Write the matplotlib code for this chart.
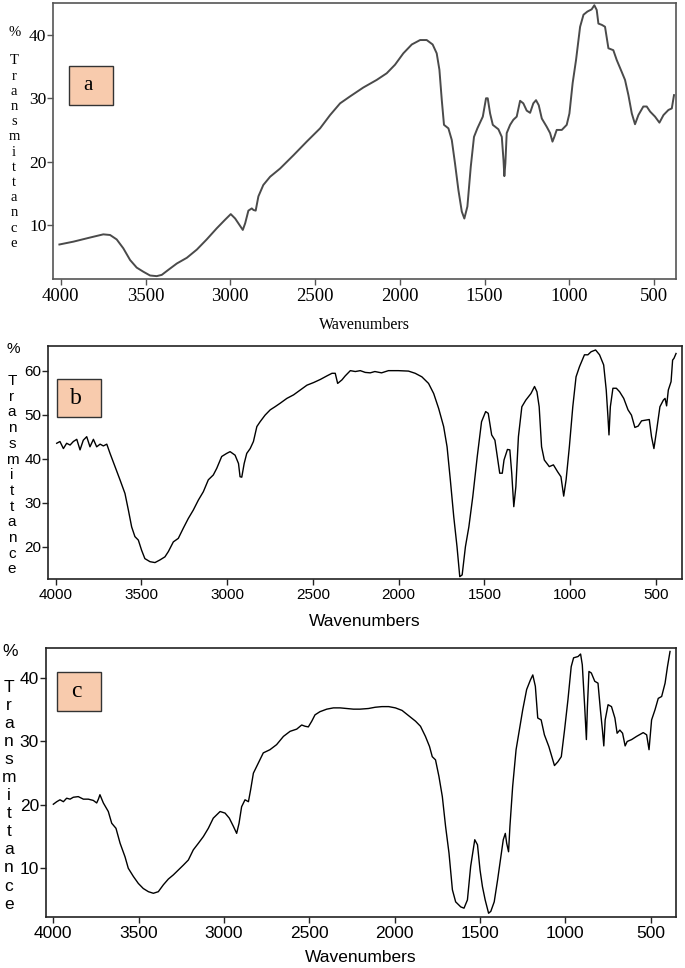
import matplotlib
matplotlib.use('Agg')
import matplotlib.pyplot as plt
from matplotlib.patches import Rectangle

# spectrum a
wn_a = [4008, 3925, 3827, 3749, 3709, 3670, 3631, 3591, 3552, 3513, 3473, 3434, 3404, 3365,
        3315, 3256, 3197, 3139, 3080, 3031, 2997, 2971, 2946, 2926, 2912, 2893, 2873, 2863,
        2850, 2834, 2805, 2765, 2706, 2627, 2549, 2470, 2411, 2352, 2293, 2215, 2136, 2077,
        2028, 1979, 1929, 1880, 1841, 1806, 1782, 1766, 1752, 1739, 1713, 1693, 1674, 1654,
        1634, 1619, 1601, 1581, 1562, 1542, 1510, 1491, 1481, 1467, 1451, 1418, 1398, 1388,
        1383, 1377, 1369, 1349, 1330, 1310, 1290, 1271, 1251, 1231, 1212, 1196, 1180, 1162,
        1133, 1113, 1099, 1088, 1074, 1044, 1015, 999, 980, 960, 936, 916, 893, 868, 852,
        838, 828, 808, 789, 769, 740, 720, 691, 671, 651, 631, 612, 592, 563, 543, 523, 494,
        468, 444, 415, 395, 382]
tr_a = [6.9, 7.35, 8.0, 8.5, 8.4, 7.7, 6.3, 4.45, 3.25, 2.6, 2.0, 1.9, 2.1, 2.9,
        3.9, 4.8, 6.1, 7.7, 9.45, 10.8, 11.7, 11.0, 10.0, 9.2, 10.25, 12.25, 12.6, 12.35,
        12.25, 14.5, 16.3, 17.6, 18.9, 21.0, 23.15, 25.25, 27.35, 29.2, 30.3, 31.7, 32.9, 33.95,
        35.3, 37.1, 38.5, 39.2, 39.2, 38.5, 37.1, 34.5, 29.7, 25.8, 25.25, 23.4, 19.7, 15.5,
        12.1, 11.0, 12.9, 19.2, 23.9, 25.25, 27.1, 30.0, 30.0, 27.6, 25.8, 25.1, 23.9, 20.25,
        17.7, 19.7, 24.5, 25.8, 26.6, 27.1, 29.6, 29.2, 28.05, 27.7, 29.2, 29.7, 28.9, 26.8,
        25.5, 24.5, 23.15, 23.9, 25.0, 25.0, 25.8, 27.6, 32.4, 36.05, 41.3, 43.2, 43.7, 44.05, 44.7,
        43.95, 41.8, 41.6, 41.3, 37.9, 37.6, 36.05, 34.2, 32.9, 30.5, 27.6, 25.9, 27.35, 28.7, 28.7, 27.9, 27.1,
        26.15, 27.35, 28.15, 28.4, 30.5]

# spectrum b
wn_b = [3994, 3975, 3955, 3936, 3916, 3897, 3877, 3858, 3839, 3819, 3800, 3780, 3761, 3741,
        3722, 3702, 3683, 3654, 3625, 3596, 3576, 3557, 3538, 3518, 3499, 3480, 3450, 3421,
        3392, 3363, 3343, 3314, 3285, 3256, 3227, 3198, 3168, 3139, 3110, 3081, 3061, 3032,
        3003, 2983, 2954, 2934, 2925, 2915, 2901, 2886, 2866, 2847, 2827, 2808, 2779, 2749,
        2721, 2691, 2652, 2613, 2574, 2535, 2496, 2457, 2419, 2389, 2370, 2356, 2331, 2312,
        2282, 2253, 2224, 2195, 2166, 2139, 2100, 2060, 2002, 1943, 1904, 1865, 1826, 1796,
        1767, 1738, 1718, 1699, 1679, 1660, 1644, 1630, 1611, 1591, 1568, 1542, 1517, 1493,
        1478, 1458, 1439, 1425, 1411, 1396, 1386, 1366, 1352, 1341, 1329, 1317, 1302, 1282,
        1259, 1229, 1208, 1194, 1181, 1167, 1151, 1122, 1098, 1073, 1054, 1038, 1024, 1005,
        985, 966, 946, 917, 897, 878, 852, 829, 805, 790, 780, 774, 766, 751, 731, 712, 688,
        663, 643, 623, 604, 584, 555, 539, 526, 512, 496, 477, 457, 447, 438, 428, 412, 403,
        395, 383]
tr_b = [43.5, 43.9, 42.3, 43.5, 43.1, 43.9, 44.4, 42.0, 44.2, 45.0, 42.7, 44.4, 42.7, 43.3,
        42.9, 43.3, 41.2, 38.2, 35.2, 32.1, 28.3, 24.5, 22.3, 21.5, 19.2, 17.3, 16.6, 16.4,
        17.0, 17.7, 18.9, 21.1, 21.9, 24.2, 26.4, 28.3, 30.6, 32.5, 35.2, 36.3, 37.8, 40.5,
        41.2, 41.6, 40.8, 38.9, 35.9, 35.8, 38.9, 41.2, 42.3, 43.9, 47.3, 48.4, 49.9, 51.1,
        51.8, 52.6, 53.7, 54.5, 55.6, 56.7, 57.3, 58.0, 58.8, 59.4, 59.4, 57.1, 57.9, 58.8,
        60.0, 59.8, 60.0, 59.6, 59.5, 59.8, 59.5, 60.0, 60.0, 59.9, 59.4, 58.6, 57.1, 54.8,
        51.4, 47.3, 42.7, 35.2, 26.8, 20.0, 13.2, 13.6, 20.0, 24.5, 31.4, 40.5, 48.4, 50.7,
        50.3, 45.4, 44.2, 40.5, 36.7, 36.7, 39.7, 42.1, 42.0, 36.7, 29.1, 33.6, 45.0, 51.8,
        53.3, 54.8, 56.4, 55.2, 51.8, 42.7, 39.7, 38.2, 38.6, 37.0, 35.9, 31.5, 35.2, 42.7,
        51.8, 58.6, 60.9, 63.6, 63.6, 64.3, 64.7, 63.6, 61.3, 55.6, 49.5, 45.4, 51.8, 56.0, 56.0, 55.2, 53.7,
        51.1, 49.9, 47.1, 47.4, 48.6, 48.8, 48.9, 45.0, 42.3, 46.5, 51.8, 53.3, 53.7, 52.0, 55.6, 57.5, 62.4,
        62.8, 63.9]

# spectrum c
wn_c = [4000, 3980, 3961, 3941, 3922, 3902, 3883, 3854, 3824, 3795, 3766, 3746, 3736, 3727,
        3707, 3678, 3658, 3633, 3609, 3580, 3561, 3531, 3502, 3473, 3443, 3414, 3385, 3355,
        3326, 3297, 3268, 3238, 3209, 3180, 3150, 3121, 3092, 3063, 3023, 2994, 2969, 2945,
        2926, 2912, 2897, 2877, 2857, 2844, 2828, 2799, 2770, 2731, 2692, 2652, 2613, 2574,
        2545, 2525, 2506, 2486, 2467, 2438, 2398, 2359, 2320, 2281, 2242, 2203, 2154, 2114,
        2075, 2035, 1996, 1957, 1918, 1878, 1849, 1820, 1796, 1780, 1761, 1741, 1721, 1702,
        1682, 1662, 1643, 1613, 1594, 1574, 1555, 1531, 1515, 1500, 1486, 1470, 1450, 1437,
        1417, 1397, 1378, 1364, 1352, 1344, 1333, 1325, 1309, 1289, 1270, 1250, 1227, 1205,
        1191, 1176, 1162, 1142, 1123, 1097, 1077, 1064, 1044, 1024, 1005, 985, 966, 952, 926,
        911, 901, 887, 877, 871, 862, 848, 828, 809, 795, 783, 775, 767, 750, 730, 710, 697,
        681, 665, 650, 638, 612, 583, 544, 524, 510, 495, 475, 456, 436, 416, 402, 387]
tr_c = [20.1, 20.5, 20.8, 20.5, 21.05, 20.9, 21.2, 21.3, 20.9, 20.9, 20.7, 20.3, 20.9, 21.6,
        20.3, 18.95, 17.1, 16.3, 13.95, 11.8, 10.0, 8.7, 7.6, 6.8, 6.3, 6.05, 6.3, 7.4,
        8.3, 8.95, 9.7, 10.5, 11.3, 12.9, 13.95, 15.0, 16.3, 17.9, 18.95, 18.7, 17.9, 16.6,
        15.5, 17.1, 19.7, 20.8, 20.5, 22.4, 25.0, 26.6, 28.2, 28.7, 29.5, 30.8, 31.6, 31.95,
        32.6, 32.4, 32.3, 33.2, 34.2, 34.7, 35.1, 35.3, 35.3, 35.2, 35.1, 35.1, 35.2, 35.4,
        35.5, 35.5, 35.3, 34.9, 34.05, 33.2, 32.4, 30.8, 29.2, 27.6, 27.1, 24.5, 21.3, 16.6,
        12.4, 6.6, 4.7, 3.9, 3.7, 5.0, 10.3, 14.5, 13.7, 9.7, 7.1, 5.0, 2.9, 3.2,
        4.7, 8.2, 11.8, 14.5, 15.5, 13.95, 12.6, 16.6, 22.9, 28.7, 31.8, 35.0, 38.2, 39.7,
        40.5, 38.7, 33.7, 33.4, 31.05, 29.2, 27.4, 26.2, 26.8, 27.6, 31.8, 36.6, 41.8, 43.2, 43.4,
        43.8, 42.1, 35.5, 30.3, 35.5, 41.05, 40.8, 39.5, 39.2, 35.0, 31.8, 29.3, 33.4, 35.8, 35.5, 33.7, 31.3,
        31.8, 31.3, 29.3, 30.0, 30.3, 30.8, 31.4, 31.05, 28.7, 33.4, 35.0, 36.8, 37.1, 39.2, 41.8, 44.2]

xticks = [4000, 3500, 3000, 2500, 2000, 1500, 1000, 500]
W, H = 685, 968


def fx(x):
    return x / W


def fy(y):
    return 1 - y / H


fig = plt.figure(figsize=(6.85, 9.68), dpi=100)

panels = [
    dict(x=wn_a, y=tr_a, box=(53.3, 2.7, 675.7, 279.3), xlim=(4044, 372), ylim=(1.4, 45.1),
         yticks=[10, 20, 30, 40], fam='Liberation Serif', xfs=13.5, yfs=12.5, lc='#4a4a4a', lw=1.4,
         sc='#555555', letter='a', lbox=(69.3, 66, 113.3, 105), lfs=15,
         xlab_y=325, xlab_fs=11.5, lab_x=14, pct=(15, 33), t_y=61, step=15.2, vfs=10.5),
    dict(x=wn_b, y=tr_b, box=(48.3, 346, 681.7, 579.3), xlim=(4043, 350), ylim=(12.6, 65.6),
         yticks=[20, 30, 40, 50, 60], fam='Liberation Sans', xfs=11, yfs=11, lc='black', lw=1.0,
         sc='#222222', letter='b', lbox=(57.3, 379, 101, 417.3), lfs=17,
         xlab_y=621, xlab_fs=12.5, lab_x=12, pct=(13, 349), t_y=381, step=15.7, vfs=11),
    dict(x=wn_c, y=tr_c, box=(46, 648.3, 676, 917.3), xlim=(4043, 352), ylim=(2.26, 44.7),
         yticks=[10, 20, 30, 40], fam='Liberation Sans', xfs=12.5, yfs=12.5, lc='black', lw=1.0,
         sc='#222222', letter='c', lbox=(57.3, 672.3, 101, 710.7), lfs=17,
         xlab_y=957, xlab_fs=12.5, lab_x=9, pct=(10, 652), t_y=687, step=18.1, vfs=12.5),
]

for p in panels:
    l, t, r, b = p['box']
    ax = fig.add_axes([fx(l), fy(b), (r - l) / W, (b - t) / H])
    ax.plot(p['x'], p['y'], color=p['lc'], lw=p['lw'])
    ax.set_xlim(*p['xlim'])
    ax.set_ylim(*p['ylim'])
    ax.set_xticks(xticks)
    ax.set_yticks(p['yticks'])
    ax.tick_params(direction='out', length=4, width=1, color=p['sc'], pad=2)
    ax.tick_params(axis='x', labelsize=p['xfs'])
    ax.tick_params(axis='y', labelsize=p['yfs'], pad=1)
    for lab in ax.get_xticklabels() + ax.get_yticklabels():
        lab.set_fontfamily(p['fam'])
    for s in ax.spines.values():
        s.set_color(p['sc'])
        s.set_linewidth(1.2)

    # x label
    fig.text(fx((l + r) / 2), fy(p['xlab_y']), 'Wavenumbers', family=p['fam'],
             fontsize=p['xlab_fs'], ha='center', va='center')
    # vertical y label, one letter per line
    fig.text(fx(p['pct'][0]), fy(p['pct'][1]), '%', family=p['fam'],
             fontsize=p['vfs'], ha='center', va='center')
    for i, ch in enumerate('Transmittance'):
        fig.text(fx(p['lab_x']), fy(p['t_y'] + i * p['step']), ch, family=p['fam'],
                 fontsize=p['vfs'], ha='center', va='center')

    # panel letter box
    x0, y0, x1, y1 = p['lbox']
    fig.add_artist(Rectangle((fx(x0), fy(y1)), (x1 - x0) / W, (y1 - y0) / H,
                             transform=fig.transFigure, facecolor='#f8cbad',
                             edgecolor='#333333', lw=1.0))
    fig.text(fx((x0 + x1) / 2 - 3), fy((y0 + y1) / 2), p['letter'], family='Liberation Serif',
             fontsize=p['lfs'], ha='center', va='center')

fig.savefig('out.png', dpi=100)
